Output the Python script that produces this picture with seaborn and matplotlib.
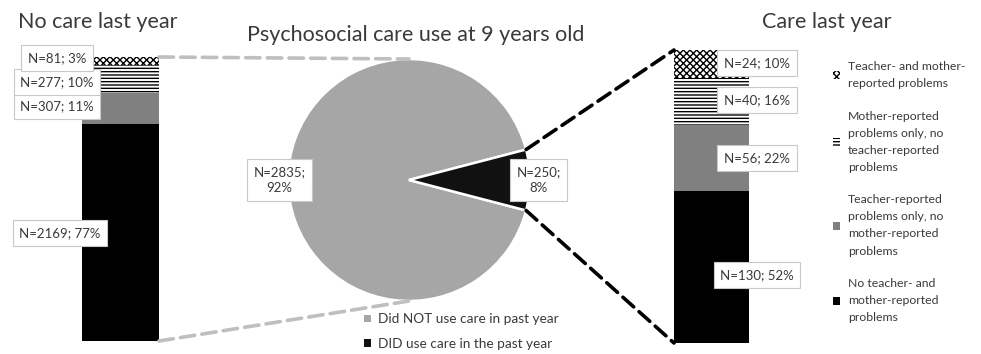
import numpy as np
import pandas as pd
import matplotlib
matplotlib.use("Agg")
import matplotlib.pyplot as plt
import seaborn as sns
from matplotlib.patches import Patch, ConnectionPatch

sns.set_theme(style="white")
plt.rcParams['font.family'] = ['Lato', 'DejaVu Sans']
plt.rcParams['hatch.linewidth'] = 1.0

# ---------------- data ----------------
categories = ["No teacher- and mother-reported problems",
              "Teacher-reported problems only, no mother-reported problems",
              "Mother-reported problems only, no teacher-reported problems",
              "Teacher- and mother-reported problems"]
legend_labels = ["No teacher- and\nmother-reported\nproblems",
                 "Teacher-reported\nproblems only, no\nmother-reported\nproblems",
                 "Mother-reported\nproblems only, no\nteacher-reported\nproblems",
                 "Teacher- and mother-\nreported problems"]
no_care_n = [2169, 307, 277, 81]
no_care_pct = [77, 11, 10, 3]
care_n = [130, 56, 40, 24]
care_pct = [52, 22, 16, 10]
pie_labels = ["Did NOT use care in past year", "DID use care in the past year"]
pie_n = [2835, 250]
pie_pct = [92, 8]

# ---------------- styles ----------------
seg_colors = ["black", "#808080", "white", "white"]
seg_hatch = [None, None, "-----", "xxxxx"]
TXT = "#3a3a3a"
W, H = 981, 354

def fx(x):
    return x / W

def fy(y):
    return 1 - y / H

fig = plt.figure(figsize=(9.81, 3.54), dpi=100)

def stacked_bar(ax, counts):
    shares = np.array(counts, dtype=float) / np.sum(counts) * 100
    cum = np.cumsum(shares)
    for i in reversed(range(len(counts))):
        df = pd.DataFrame({"g": ["bar"], "v": [cum[i]]})
        sns.barplot(data=df, x="g", y="v", color=seg_colors[i], saturation=1,
                    width=1.0, hatch=seg_hatch[i], edgecolor="black",
                    linewidth=0, ax=ax)
    ax.set_xlim(-0.5, 0.5)
    ax.set_ylim(0, 100)
    ax.axis("off")
    return shares

# left bar
ax_l = fig.add_axes([fx(82), fy(341), fx(159) - fx(82), fy(57) - fy(341)])
stacked_bar(ax_l, no_care_n)
# right bar
ax_r = fig.add_axes([fx(674), fy(343), fx(749) - fx(674), fy(50) - fy(343)])
stacked_bar(ax_r, care_n)

# pie
cx, cy, r = 409, 180, 121
ax_p = fig.add_axes([fx(cx - r), fy(cy + r), 2 * r / W, 2 * r / H])
half = 360 * pie_n[1] / sum(pie_n) / 2
ax_p.pie(pie_n, colors=["#a6a6a6", "#111111"], startangle=half,
         counterclock=True, wedgeprops=dict(edgecolor="white", linewidth=1.8))
ax_p.set_xlim(-1, 1)
ax_p.set_ylim(-1, 1)
ax_p.axis("off")

box = dict(boxstyle="square,pad=0.5", fc="white", ec="#c8c8c8", lw=0.8)
ax_p.text(-1.07, 0.0, f"N={pie_n[0]};\n{pie_pct[0]}%", ha="center", va="center",
          fontsize=9.5, color=TXT, bbox=box, linespacing=1.45)
ax_p.text(1.07, 0.0, f"N={pie_n[1]};\n{pie_pct[1]}%", ha="center", va="center",
          fontsize=9.5, color=TXT, bbox=box, linespacing=1.45)

# connectors
a = np.deg2rad(half)
gray_kw = dict(color="#bfbfbf", lw=2.6, linestyle=(0, (4, 2)))
blk_kw = dict(color="black", lw=2.6, linestyle=(0, (4, 2)))
for yA, yB in [(100, 1), (0, -1)]:
    con = ConnectionPatch(xyA=(0.5, yA), coordsA=ax_l.transData,
                          xyB=(0, yB), coordsB=ax_p.transData, **gray_kw)
    fig.add_artist(con)
for yA, yB in [(np.sin(a), 100), (-np.sin(a), 0)]:
    con = ConnectionPatch(xyA=(np.cos(a), yA), coordsA=ax_p.transData,
                          xyB=(-0.5, yB), coordsB=ax_r.transData, **blk_kw)
    fig.add_artist(con)

# bar labels
left_pos = [(60, 233), (57, 106), (57, 82), (57, 58)]
for (x, y), n, p in zip(left_pos, no_care_n, no_care_pct):
    fig.text(fx(x), fy(y), f"N={n}; {p}%", ha="center", va="center",
             fontsize=9.5, color=TXT, bbox=box)
right_pos = [(757, 275), (757, 158), (757, 100), (757, 63)]
for (x, y), n, p in zip(right_pos, care_n, care_pct):
    fig.text(fx(x), fy(y), f"N={n}; {p}%", ha="center", va="center",
             fontsize=9.5, color=TXT, bbox=box)

# titles
fig.text(fx(18), fy(22), "No care last year", ha="left", va="center",
         fontsize=15.5, color=TXT)
fig.text(fx(416), fy(35), "Psychosocial care use at 9 years old", ha="center",
         va="center", fontsize=15.5, color=TXT)
fig.text(fx(827), fy(22), "Care last year", ha="center", va="center",
         fontsize=15.5, color=TXT)

# right legend
handles = [Patch(facecolor=seg_colors[i], edgecolor="black", hatch=seg_hatch[i],
                 linewidth=0) for i in range(4)][::-1]
leg = fig.legend(handles, legend_labels[::-1], loc="upper left",
                 bbox_to_anchor=(fx(822), fy(50)), frameon=False, fontsize=8.8,
                 handlelength=0.6, handleheight=0.6, handletextpad=0.6,
                 labelspacing=1.75)
for t in leg.get_texts():
    t.set_color(TXT)
    t.set_linespacing(1.68)

# pie legend
ph = [Patch(facecolor=c, edgecolor="none") for c in ["#a6a6a6", "#111111"]]
leg2 = fig.legend(ph, pie_labels, loc="upper left",
                  bbox_to_anchor=(fx(352), fy(301)), frameon=False, fontsize=9.8,
                  handlelength=0.5, handleheight=0.5, handletextpad=0.5,
                  labelspacing=0.95)
for t in leg2.get_texts():
    t.set_color(TXT)

fig.savefig("out.png", dpi=100, facecolor="white")
